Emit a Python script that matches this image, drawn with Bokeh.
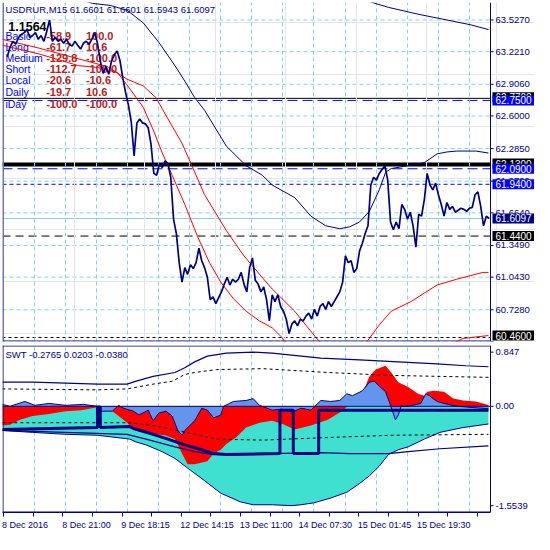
import numpy as np
from bokeh.plotting import figure
from bokeh.models import Range1d, FixedTicker, Span, Label, Grid
from bokeh.layouts import column
from bokeh.embed import file_html
from bokeh.resources import INLINE
from bokeh.core.properties import value

# ---------------- data ----------------
title_text = "USDRUR,M15  61.6601 61.6601 61.5943 61.6097"
big_value = "1.1564"
legend_names = ["Basic", "Long", "Medium", "Short", "Local", "Daily", "iDay"]
legend_col1 = ["-58.9", "-61.7", "-129.8", "-112.7", "-20.6", "-19.7", "-100.0"]
legend_col2 = ["100.0", "10.6", "-100.0", "-100.0", "-10.6", "10.6", "-100.0"]
swt_text = "SWT -0.2765 0.0203 -0.0380"

# time axis (M15 bar index) and its labels
date_tick_bars = [0, 84, 168, 252, 336, 420, 504, 588]
date_labels = ["8 Dec 2016", "8 Dec 21:00", "9 Dec 18:15", "12 Dec 14:15",
               "13 Dec 11:00", "14 Dec 07:30", "15 Dec 01:45", "15 Dec 19:30"]

price_ticks = [63.527, 63.221, 62.906, 62.600, 62.285, 61.970, 61.664,
               61.349, 61.043, 60.728, 60.422]

price_bars = list(range(5, 692, 4))
price_close = [
    63.171, 63.265, 63.321, 63.293, 63.358, 63.387, 63.405, 63.434, 63.358, 63.377,
    63.405, 63.340, 63.377, 63.321, 63.415, 63.527, 63.321, 63.358, 63.321, 63.340,
    63.302, 63.340, 63.293, 63.274, 63.321, 63.283, 63.246, 63.302, 63.321, 63.293,
    63.340, 63.405, 63.302, 63.133, 63.011, 63.077, 63.002, 63.133, 63.190, 63.227,
    63.133, 62.965, 62.824, 62.702, 62.542, 62.214, 62.533, 62.571, 62.533, 62.524,
    62.486, 62.327, 62.045, 62.027, 62.139, 62.102, 62.167, 62.139, 62.008, 61.604,
    61.464, 61.183, 60.995, 61.135, 61.070, 61.164, 61.126, 61.183, 61.323, 61.201,
    61.135, 61.042, 60.826, 60.854, 60.788, 60.845, 60.901, 60.976, 61.042, 60.967,
    61.023, 60.995, 61.023, 61.089, 60.976, 60.901, 61.135, 61.229, 61.014, 60.976,
    60.901, 60.948, 60.826, 60.620, 60.873, 60.807, 60.873, 60.760, 60.714, 60.638,
    60.498, 60.591, 60.620, 60.573, 60.638, 60.620, 60.667, 60.695, 60.638, 60.732,
    60.667, 60.760, 60.788, 60.732, 60.807, 60.760, 60.807, 60.854, 60.901, 60.995,
    61.248, 61.183, 61.201, 61.089, 61.126, 61.295, 61.370, 61.464, 61.539, 61.933,
    62.008, 61.980, 62.045, 62.083, 62.120, 61.980, 61.576, 61.501, 61.576, 61.511,
    61.745, 61.698, 61.604, 61.670, 61.539, 61.332, 61.651, 61.632, 61.792, 62.045,
    61.933, 61.886, 61.951, 61.839, 61.745, 61.632, 61.764, 61.698, 61.726, 61.670,
    61.689, 61.708, 61.698, 61.679, 61.708, 61.717, 61.839, 61.867, 61.726, 61.539,
    61.632, 61.6097]

nan = float("nan")
red_a_bars = [-2, 50, 106, 133, 161, 175, 198, 212, 225, 239, 257, 275, 292, 308,
              326, 344, 363, 381, 395, 409, 520, 629, 652, 688]
red_a_vals = [63.283, 63.199, 63.086, 63.068, 63.021, 62.899, 62.683, 62.467, 62.242,
              62.027, 61.745, 61.436, 61.183, 60.995, 60.835, 60.714, 60.620, 60.554,
              60.460, 60.338, nan, 60.376, 60.451, 60.479]
red_b_bars = [-2, 50, 106, 147, 175, 198, 216, 234, 253, 267, 285, 316, 340, 363,
              381, 413, 443, 457, 480, 505, 519, 533, 550, 578, 615, 643, 680, 688]
red_b_vals = [63.340, 63.255, 63.152, 63.077, 62.955, 62.890, 62.777, 62.561, 62.336,
              62.120, 61.839, 61.492, 61.257, 61.070, 60.929, 60.714, 60.460, 60.357,
              nan, 60.338, 60.451, 60.582, 60.714, 60.807, 60.967, 61.023, 61.089, 61.089]
mid_bars = [99, 126, 151, 175, 198, 220, 243, 257, 271, 285, 316, 344, 367, 381, 413,
            436, 457, 477, 491, 505, 519, 533, 542, 550, 574, 597, 615, 629, 643, 670, 688]
mid_vals = [63.743, 63.687, 63.668, 63.621, 63.499, 63.312, 63.086, 62.936, 62.777,
            62.655, 62.308, 62.120, 62.027, 61.933, 61.811, 61.632, 61.539, 61.511,
            61.529, 61.576, 61.679, 61.886, 62.055, 62.092, 62.120, 62.149, 62.233,
            62.252, 62.261, 62.261, 62.242]
top_bars = [505, 523, 546, 588, 629, 663, 688]
top_vals = [63.743, 63.696, 63.649, 63.583, 63.527, 63.480, 63.434]

# horizontal price levels
level_black_top = 62.7700
level_blue_top = 62.7500
level_black_mid = 62.1300
level_blue_mid = 62.0900
level_blue_low = 61.9400
level_bid = 61.6097
level_black_low = 61.4400
level_black_bottom = 60.4600

# ----- SWT indicator -----
swt_ticks = [0.847, 0.0, -1.5539]
swt_tick_labels = ["0.847", "0.00", "-1.5539"]

turq_bars = [-2, 41, 88, 133, 179, 188, 202, 225, 243, 261, 285, 308, 336, 354, 381,
             409, 422, 440, 464, 487, 505, 519, 533, 546, 560, 574, 597, 619, 652, 688]
turq_vals = [-0.378, -0.408, -0.438, -0.453, -0.513, -0.559, -0.604, -0.710, -0.815,
             -0.966, -1.163, -1.359, -1.495, -1.540, -1.540, -1.5539, -1.540, -1.510,
             -1.435, -1.344, -1.208, -1.087, -0.936, -0.755, -0.680, -0.634, -0.513,
             -0.408, -0.332, -0.2765]
red_bars = [-2, 9, 23, 41, 64, 88, 110, 133, 140, 147, 154, 163, 175, 184, 192, 206,
            216, 229, 243, 253, 261, 271, 289, 298, 308, 316, 330, 344, 363, 381, 395,
            413, 436, 460, 482, 491, 495, 505, 519, 528, 542, 550, 560, 574, 588, 597,
            601, 611, 625, 638, 652, 670, 688]
red_vals = [-0.302, -0.287, -0.211, -0.151, -0.121, -0.076, -0.060, -0.015, -0.045,
            -0.060, -0.076, -0.151, -0.257, -0.362, -0.393, -0.423, -0.438, -0.453,
            -0.513, -0.740, -0.906, -0.906, -0.861, -0.740, -0.680, -0.589, -0.483,
            -0.332, -0.257, -0.227, -0.272, -0.362, -0.302, -0.211, -0.060, 0.045,
            0.151, 0.091, 0.468, 0.574, 0.634, 0.529, 0.378, 0.302, 0.196, 0.166,
            0.227, 0.242, 0.227, 0.121, 0.091, 0.076, 0.0203]
blue_bars = [-2, 9, 30, 44, 64, 88, 113, 133, 137, 147, 154, 163, 170, 184, 192, 205,
             212, 220, 230, 239, 247, 253, 257, 271, 281, 289, 298, 308, 312, 326, 344,
             354, 363, 381, 395, 409, 422, 436, 450, 464, 477, 487, 495, 509, 519, 526,
             533, 542, 549, 556, 560, 564, 574, 592, 599, 604, 615, 625, 643, 688]
blue_vals = [0.030, 0.0, 0.076, 0.015, 0.045, 0.015, 0.030, 0.0, -0.076, -0.076,
             -0.076, 0.015, -0.030, -0.076, -0.136, -0.060, -0.227, -0.106, -0.076,
             -0.151, -0.378, -0.453, -0.378, -0.227, -0.030, -0.060, -0.181, -0.136,
             0.0, 0.076, 0.091, 0.121, 0.015, -0.060, -0.045, -0.091, -0.030, -0.060,
             0.091, 0.076, 0.091, 0.196, 0.166, 0.242, 0.378, 0.393, 0.317, 0.227,
             0.015, -0.211, -0.136, 0.0, 0.0, 0.045, 0.196, 0.166, 0.076, 0.045, 0.0,
             -0.038]
signal_bars = [-2, 133, 133, 137, 137, 179, 184, 212, 233, 257, 281, 298, 316, 392,
               392, 411, 411, 447, 447, 688]
signal_vals = [-0.362, -0.332, -0.010, -0.010, -0.332, -0.317, -0.347, -0.438, -0.513,
               -0.604, -0.680, -0.740, -0.755, -0.740, -0.060, -0.060, -0.740, -0.740,
               -0.060, -0.060]
upper_bars = [-2, 41, 88, 133, 175, 188, 212, 243, 257, 271, 289, 316, 354, 381, 450,
              505, 560, 615, 656, 688]
upper_vals = [0.378, 0.378, 0.362, 0.347, 0.347, 0.393, 0.468, 0.529, 0.604, 0.695,
              0.785, 0.831, 0.847, 0.831, 0.755, 0.725, 0.695, 0.664, 0.634, 0.619]
lower_bars = [-2, 175, 202, 243, 271, 298, 381, 450, 491, 546, 574, 619, 688]
lower_vals = [-0.378, -0.438, -0.513, -0.634, -0.710, -0.755, -0.740, -0.725, -0.740,
              -0.740, -0.710, -0.664, -0.619]
upper_dash_bars = [-2, 133, 175, 212, 239, 257, 271, 302, 367, 460, 550, 688]
upper_dash_vals = [0.272, 0.257, 0.272, 0.347, 0.393, 0.498, 0.529, 0.574, 0.589,
                   0.529, 0.483, 0.453]
lower_dash_bars = [-2, 179, 212, 239, 271, 302, 367, 473, 550, 688]
lower_dash_vals = [-0.257, -0.257, -0.302, -0.362, -0.438, -0.513, -0.529, -0.483,
                   -0.453, -0.438]

# ---------------- layout / styling ----------------
NAVY = "#000080"
BLUE = "#0000FF"
GRIDC = "#87CEFA"
FONT = "Liberation Sans"
W = 534
FRAME_W = W - 2           # frame spans everything right of a 2px left border
DATA_PX = 488             # chart area; the rest of the frame holds the price scale
FH1 = 339                 # main frame height
FH2 = 168                 # indicator frame height

X0, AX = -1.8, 690.9      # left edge and right price-scale position (bars)
K = (AX - X0) / DATA_PX   # bars per pixel
X_END = X0 + FRAME_W * K
x_range = Range1d(X0, X_END)
Y1 = (60.4215, 63.6958)
Y2 = (-1.661, 0.951)


def sx(rx):
    return (rx - 2) * DATA_PX / 503.0


def sy1(ry):
    return (351 - ry) * FH1 / 349.0


def sy2(ry):
    return (528 - ry) * FH2 / 173.0


grid_bars = [43.7 + 44.07 * k for k in range(15)]


def frame_decor(p, y0, y1, fh, ticks, tick_labels, label_dy, top=False):
    dy = (y1 - y0) / fh
    p.add_layout(Grid(dimension=0, ticker=FixedTicker(ticks=grid_bars), grid_line_color=GRIDC,
                      grid_line_dash="4 3"))
    # left border and price-scale line
    p.segment(x0=[X0 + 0.5 * K, AX], x1=[X0 + 0.5 * K, AX], y0=[y0, y0], y1=[y1, y1],
              line_color=NAVY, line_width=1)
    ys = [y0 + 0.5 * dy]
    if top:
        ys.append(y1 - 0.5 * dy)
    p.segment(x0=[X0] * len(ys), x1=[AX] * len(ys), y0=ys, y1=ys, line_color=NAVY,
              line_width=1)
    # scale ticks and labels
    p.segment(x0=[AX] * len(ticks), x1=[AX + 3 * K] * len(ticks), y0=ticks, y1=ticks,
              line_color=NAVY, line_width=1)
    p.text(x=[AX + 5 * K] * len(ticks), y=ticks, text=tick_labels, text_font=value(FONT),
           text_font_size=value("9.5px"), text_color=NAVY, text_baseline="middle",
           text_align="left", y_offset=label_dy)


p1 = figure(width=W, height=FH1 + 4, x_range=x_range, y_range=Range1d(*Y1),
            output_backend="svg", toolbar_location=None, x_axis_location=None,
            y_axis_location=None, min_border_left=2, min_border_right=0,
            min_border_top=2, min_border_bottom=2, outline_line_color=None,
            background_fill_color="white", border_fill_color="white")
p1.segment(x0=[X0] * len(price_ticks), x1=[AX] * len(price_ticks), y0=price_ticks,
           y1=price_ticks, line_color=GRIDC, line_dash="4 3", line_width=1, level="underlay")
frame_decor(p1, Y1[0], Y1[1], FH1, price_ticks, ["%.4f" % t for t in price_ticks],
            [0] * (len(price_ticks) - 1) + [-5])

levels = [
    (level_black_top, "black", "solid", 1),
    (level_blue_top, BLUE, "10 5", 1),
    (level_black_mid, "black", "solid", 4),
    (level_blue_mid, BLUE, "10 5", 1),
    (level_blue_low, BLUE, "4 3", 1),
    (level_bid, GRIDC, "solid", 1),
    (level_black_low, "black", "8 5", 1),
    (level_black_bottom, "black", "3 3", 1),
]
for lv, col, dash, lw in levels:
    p1.segment(x0=[X0], x1=[AX], y0=[lv], y1=[lv], line_color=col, line_dash=dash,
               line_width=lw, level="underlay")

# legend texts (under the lines)
p1.add_layout(Label(x=sx(5), y=sy1(9), x_units="screen", y_units="screen", text=title_text,
                    text_font=FONT, text_font_size="9.5px", text_color=NAVY,
                    text_baseline="middle", level="underlay"))
p1.add_layout(Label(x=sx(8), y=sy1(27), x_units="screen", y_units="screen", text=big_value,
                    text_font=FONT, text_font_size="12.5px", text_font_style="bold",
                    text_color="black", text_baseline="middle", level="underlay"))
row_y = [36, 47.5, 59, 70.5, 82, 94, 106]
for name, c1, c2, ry in zip(legend_names, legend_col1, legend_col2, row_y):
    p1.add_layout(Label(x=sx(5), y=sy1(ry), x_units="screen", y_units="screen", text=name,
                        text_font=FONT, text_font_size="10.5px", text_color=BLUE,
                        text_baseline="middle", level="underlay"))
    p1.add_layout(Label(x=sx(47), y=sy1(ry), x_units="screen", y_units="screen", text=c1,
                        text_font=FONT, text_font_size="11px", text_font_style="bold",
                        text_color="#B22222", text_baseline="middle", level="underlay"))
    p1.add_layout(Label(x=sx(88), y=sy1(ry), x_units="screen", y_units="screen", text=c2,
                        text_font=FONT, text_font_size="11px", text_font_style="bold",
                        text_color="#B22222", text_baseline="middle", level="underlay"))

p1.line(top_bars, top_vals, line_color=NAVY, line_width=1)
p1.line(mid_bars, mid_vals, line_color=NAVY, line_width=1)
p1.line(red_b_bars, red_b_vals, line_color="#FF0000", line_width=1)
p1.line(red_a_bars, red_a_vals, line_color="#FF0000", line_width=1)
p1.line(price_bars, price_close, line_color=NAVY, line_width=1.7)

boxes = [
    (level_black_top, "black", 1), (level_blue_top, BLUE, 0),
    (level_black_mid, "black", 1), (level_blue_mid, BLUE, 0),
    (level_blue_low, BLUE, 0), (level_bid, NAVY, 0),
    (level_black_low, "black", 0), (level_black_bottom, "black", 2),
]
for lv, bg, dy in boxes:
    p1.add_layout(Label(x=AX + 2 * K, y=lv, y_offset=dy, text="%.4f" % lv, text_font=FONT,
                        text_font_size="10px", text_color="white",
                        background_fill_color=bg, text_baseline="middle",
                        padding=(3, 1)))

# ---------------- indicator ----------------
p2 = figure(width=W, height=FH2 + 21, x_range=x_range, y_range=Range1d(*Y2),
            output_backend="svg", toolbar_location=None, y_axis_location=None,
            x_axis_location="below", min_border_left=2, min_border_right=0,
            min_border_top=2, min_border_bottom=19, outline_line_color=None,
            background_fill_color="white", border_fill_color="white")
p2.grid.visible = False

p2.varea(x=turq_bars, y1=0, y2=turq_vals, fill_color="#40E0D0")
p2.varea(x=red_bars, y1=0, y2=red_vals, fill_color="#FF0000")
p2.varea(x=blue_bars, y1=0, y2=blue_vals, fill_color="#6495ED")
p2.line(turq_bars, turq_vals, line_color=NAVY, line_width=1)
p2.line(blue_bars, blue_vals, line_color=NAVY, line_width=1)
p2.segment(x0=[X0], x1=[AX], y0=[0], y1=[0], line_color=NAVY, line_width=1)
p2.line(upper_bars, upper_vals, line_color=NAVY, line_width=1.2)
p2.line(lower_bars, lower_vals, line_color=NAVY, line_width=1.2)
p2.line(upper_dash_bars, upper_dash_vals, line_color="black", line_width=1, line_dash="3 3")
p2.line(lower_dash_bars, lower_dash_vals, line_color="black", line_width=1, line_dash="3 3")
p2.line(signal_bars, signal_vals, line_color=NAVY, line_width=3)
frame_decor(p2, Y2[0], Y2[1], FH2, swt_ticks, swt_tick_labels, [0, 0, 0], top=True)

p2.add_layout(Label(x=sx(5), y=sy2(365), x_units="screen", y_units="screen", text=swt_text,
                    text_font=FONT, text_font_size="9.5px", text_color=NAVY,
                    text_baseline="middle"))

# time axis: real tick marks as minor ticks, labels left-aligned at each mark
xa = p2.xaxis[0]
minor_bars = list(range(0, 690, 42))
centers = [b + (4.45 * len(t) / 2 - 1) * K for b, t in zip(date_tick_bars, date_labels)]
xa.ticker = FixedTicker(ticks=centers, minor_ticks=minor_bars)
xa.major_label_overrides = dict(zip(centers, date_labels))
xa.bounds = (X0, AX)
xa.axis_line_color = NAVY
xa.major_tick_line_color = None
xa.major_tick_out = 0
xa.major_tick_in = 0
xa.minor_tick_line_color = NAVY
xa.minor_tick_out = 4
xa.minor_tick_in = 0
xa.major_label_standoff = 3
xa.major_label_text_color = NAVY
xa.major_label_text_font = FONT
xa.major_label_text_font_size = "9px"

layout = column(p1, p2, spacing=0)
open("out.html", "w").write(file_html(layout, INLINE))
